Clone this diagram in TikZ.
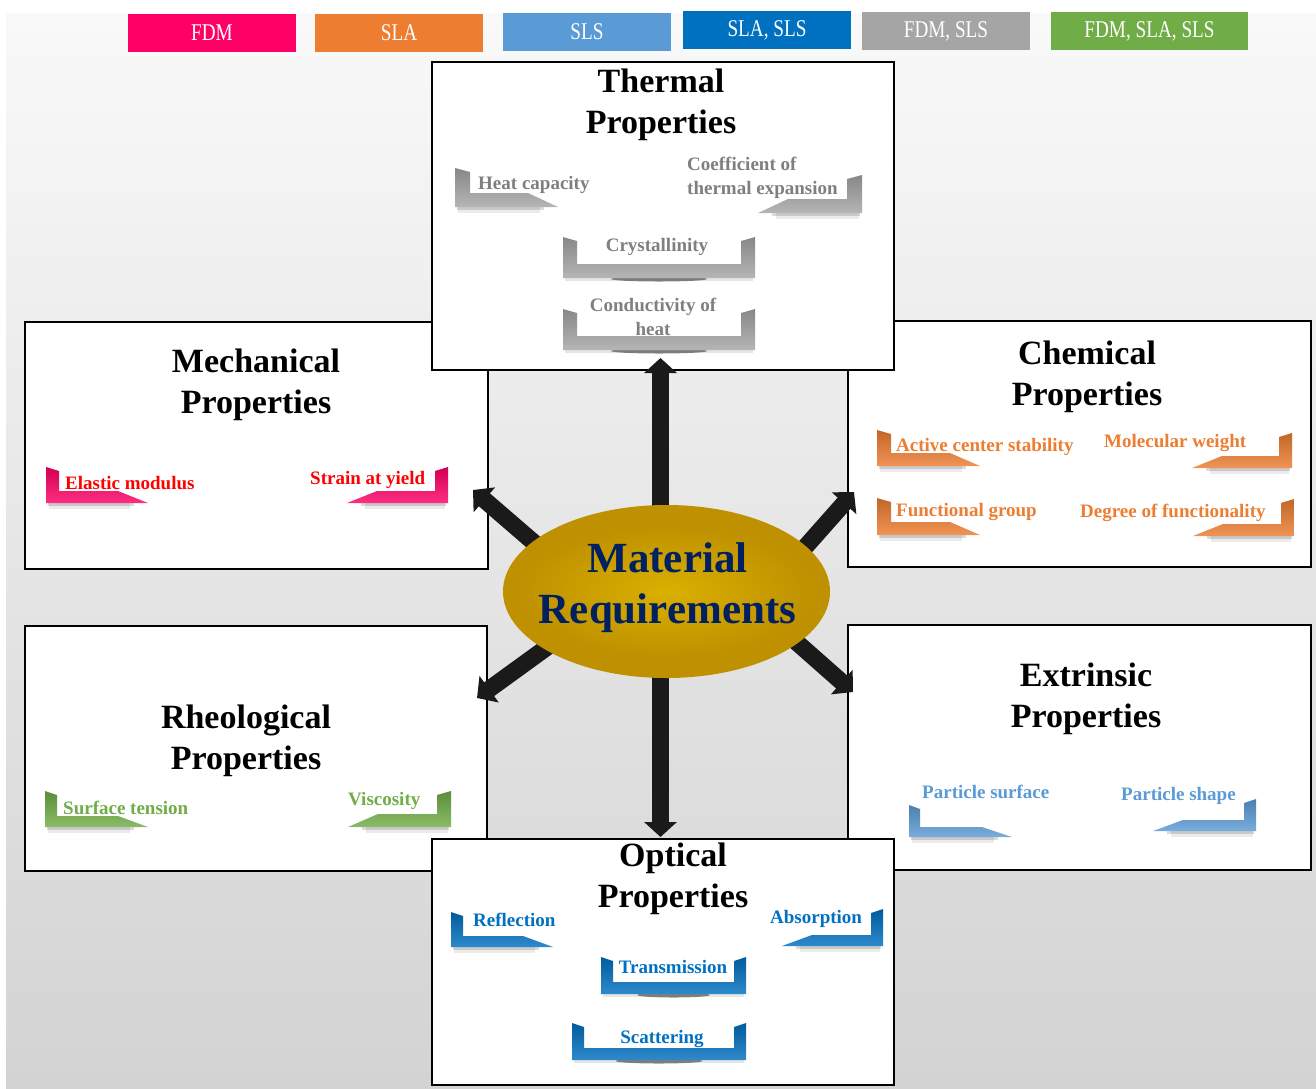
\documentclass[tikz,border=0pt]{standalone}
\usepackage{fontspec}
\usepackage{graphicx}
\setmainfont{Liberation Serif}
\usetikzlibrary{arrows.meta,shapes.geometric}
\definecolor{cFDM}{HTML}{FF0066}
\definecolor{cSLA}{HTML}{ED7D31}
\definecolor{cSLS}{HTML}{5B9BD5}
\definecolor{cSLASLS}{HTML}{0070C0}
\definecolor{cFDMSLS}{HTML}{A5A5A5}
\definecolor{cALL}{HTML}{70AD47}
\definecolor{tGray}{HTML}{7F7F7F}
\definecolor{tRed}{HTML}{FF0000}
\definecolor{gold}{HTML}{BF9000}
\definecolor{goldglow}{HTML}{D9B000}
\definecolor{navy}{HTML}{002060}
\definecolor{arrowblack}{HTML}{1A1A1A}
\definecolor{bgtop}{HTML}{F9F9F9}
\definecolor{bgbot}{HTML}{D3D3D3}

% left bracket: colour, outer x, top y, bottom y, end x, thickness
\newcommand\brkL[6]{%
  \fill[black,opacity=.14] ({#2+2},{#4-2}) rectangle ({#5-14},{#4+3});
  \fill[black,opacity=.08] ({#2+3},{#4}) rectangle ({#5-18},{#4+6});
  \shade[top color=#1!82!black,bottom color=#1!82!white]
    (#2,#3) -- ({#2+#6},{#3+4}) -- ({#2+#6},{#4-#6+1}) -- ({#5-30},{#4-#6+1})
    -- (#5,#4) -- (#2,#4) -- cycle;}
% right bracket
\newcommand\brkR[6]{%
  \fill[black,opacity=.14] ({#5+14},{#4-2}) rectangle ({#2-2},{#4+3});
  \fill[black,opacity=.08] ({#5+18},{#4}) rectangle ({#2-3},{#4+6});
  \shade[top color=#1!82!black,bottom color=#1!82!white]
    (#2,#3) -- ({#2-#6},{#3+4}) -- ({#2-#6},{#4-#6+1}) -- ({#5+30},{#4-#6+1})
    -- (#5,#4) -- (#2,#4) -- cycle;}
% U bracket: colour, left x, right x, top y, bottom y, thickness
\newcommand\brkU[6]{%
  \fill[black,opacity=.10] ({#2+2},{#5-2}) rectangle ({#3-2},{#5+3});
  \fill[black,opacity=.45] ({(#2+#3)/2},{#5+1}) ellipse [x radius={(#3-#2)/4}, y radius=2.5];
  \shade[top color=#1!82!black,bottom color=#1!82!white]
    (#2,#4) -- ({#2+#6},{#4+4}) -- ({#2+#6},{#5-#6}) -- ({#3-#6},{#5-#6})
    -- ({#3-#6},{#4+4}) -- (#3,#4) -- (#3,#5) -- (#2,#5) -- cycle;}

\tikzset{
  propbox/.style={draw=black, line width=1.8pt, fill=white, inner sep=0, anchor=north west},
  legendbox/.style={minimum width=168pt, minimum height=38pt, inner sep=0, text=white,
    font=\fontsize{24}{24}\selectfont},
  proptitle/.style={font=\fontsize{34}{41}\selectfont\bfseries, align=center, anchor=base, inner sep=0},
  item/.style={font=\fontsize{19}{24}\selectfont\bfseries, inner sep=0, yshift=-1.5pt},
  bigarrow/.style={line width=17pt, draw=arrowblack, -{Triangle[length=15pt,width=32pt]}},
}

\begin{document}
\begin{tikzpicture}[x=1pt,y=-1pt]
\useasboundingbox (0,0) rectangle (1316,1088);
\fill[white] (0,0) rectangle (1316,1088);
\shade[top color=bgtop, bottom color=bgbot] (6,13) rectangle (1316,1088);

% legend
\node[legendbox, fill=cFDM] (lgA) at (212,33) {\scalebox{0.8}[1]{FDM}};
\node[legendbox, fill=cSLA] (lgB) at (399,33) {\scalebox{0.8}[1]{SLA}};
\node[legendbox, fill=cSLS] (lgC) at (587,32) {\scalebox{0.8}[1]{SLS}};
\node[legendbox, fill=cSLASLS] (lgD) at (767,30) {\scalebox{0.8}[1]{SLA, SLS}};
\node[legendbox, fill=cFDMSLS] (lgE) at (946,31) {\scalebox{0.8}[1]{FDM, SLS}};
\node[legendbox, fill=cALL, minimum width=197pt] (lgF) at (1149.5,31) {\scalebox{0.8}[1]{FDM, SLA, SLS}};

% side boxes
\node[propbox, minimum width=463pt, minimum height=247pt] (mech) at (24,321) {};
\node[propbox, minimum width=463pt, minimum height=246pt] (chem) at (847,320) {};
\node[propbox, minimum width=462pt, minimum height=245pt] (rheo) at (24,625) {};
\node[propbox, minimum width=463pt, minimum height=245pt] (extr) at (847,624) {};
% top / bottom boxes
\node[propbox, minimum width=462pt, minimum height=308pt] (therm) at (431,61) {};
\node[propbox, minimum width=462pt, minimum height=246pt] (opt) at (431,838) {};

% titles (anchor = baseline of the last line)
\node[proptitle] (thermT) at (661,133) {Thermal\\Properties};
\node[proptitle] (mechT) at (256,413) {Mechanical\\Properties};
\node[proptitle] (chemT) at (1087,405) {Chemical\\Properties};
\node[proptitle] (rheoT) at (246,769) {Rheological\\Properties};
\node[proptitle] (extrT) at (1086,727) {Extrinsic\\Properties};
\node[proptitle] (optT) at (673,907) {Optical\\Properties};

% thermal items
\brkL{cFDMSLS}{455}{168}{207}{558}{15}
\brkR{cFDMSLS}{862}{175}{213}{758}{15}
\brkU{cFDMSLS}{563}{755}{237}{278}{14}
\brkU{cFDMSLS}{563}{755}{309}{350}{14}
\node[item, text=tGray, anchor=west] (i1) at (478,183) {Heat capacity};
\node[item, text=tGray, anchor=west, align=left] (i2) at (687,176) {Coefficient of\\thermal expansion};
\node[item, text=tGray] (i3) at (657,245) {Crystallinity};
\node[item, text=tGray, align=center] (i4) at (653,315) {Conductivity of\\heat};

% mechanical items
\brkL{cFDM}{46}{467}{503}{148}{13}
\brkR{cFDM}{448}{467}{503}{347}{13}
\node[item, text=tRed, anchor=west] (i5) at (65,482) {Elastic modulus};
\node[item, text=tRed, anchor=west] (i6) at (310,478) {Strain at yield};

% chemical items
\brkL{cSLA}{877}{430}{466}{980}{14}
\brkR{cSLA}{1292}{433}{468}{1192}{13}
\brkL{cSLA}{877}{498}{535}{980}{14}
\brkR{cSLA}{1294}{499}{536}{1193}{13}
\node[item, text=cSLA, anchor=west] (i7) at (896,445) {Active center stability};
\node[item, text=cSLA, anchor=west] (i8) at (1104,441) {Molecular weight};
\node[item, text=cSLA, anchor=west] (i9) at (896,510) {Functional group};
\node[item, text=cSLA, anchor=west] (i10) at (1080,511) {Degree of functionality};

% rheological items
\brkL{cALL}{45}{791}{827}{148}{12}
\brkR{cALL}{451}{791}{827}{348}{14}
\node[item, text=cALL, anchor=west] (i11) at (63,806) {Surface tension};
\node[item, text=cALL, anchor=west] (i12) at (348,799) {Viscosity};

% extrinsic items
\brkL{cSLS}{909}{805}{837}{1012}{11}
\brkR{cSLS}{1256}{799}{831}{1153}{12}
\node[item, text=cSLS, anchor=west] (i13) at (922,790) {Particle surface};
\node[item, text=cSLS, anchor=west] (i14) at (1121,794) {Particle shape};

% optical items
\brkL{cSLASLS}{451}{912}{947}{553}{12}
\brkR{cSLASLS}{883}{909}{946}{782}{12}
\brkU{cSLASLS}{601}{746}{957}{994}{12}
\brkU{cSLASLS}{572}{746}{1023}{1060}{12}
\node[item, text=cSLASLS, anchor=west] (i15) at (473,918) {Reflection};
\node[item, text=cSLASLS, anchor=west] (i16) at (770,917) {Absorption};
\node[item, text=cSLASLS] (i17) at (673,965) {Transmission};
\node[item, text=cSLASLS] (i18) at (662,1037) {Scattering};

% arrows
\coordinate (sUp) at (660.5,560);  \coordinate (tUp) at (660.5,358);
\coordinate (sDn) at (660.5,620);  \coordinate (tDn) at (660.5,837);
\coordinate (sUL) at (590,591);    \coordinate (tUL) at (473,490);
\coordinate (sUR) at (761,597);    \coordinate (tUR) at (854,492);
\coordinate (sLL) at (608,603);    \coordinate (tLL) at (477,698);
\coordinate (sLR) at (742,594);    \coordinate (tLR) at (853,692);
\draw[bigarrow] (sUp) -- (tUp);
\draw[bigarrow] (sDn) -- (tDn);
\draw[bigarrow] (sUL) -- (tUL);
\draw[bigarrow] (sUR) -- (tUR);
\draw[bigarrow] (sLL) -- (tLL);
\draw[bigarrow] (sLR) -- (tLR);

% centre
\node[ellipse, fill=gold, minimum width=327pt, minimum height=173pt, inner sep=0] (ell) at (666.5,591.5) {};
\shade[inner color=goldglow, outer color=gold] (ell.center) ellipse [x radius=150, y radius=66];
\node[font=\fontsize{43}{51}\selectfont\bfseries, text=navy, align=center, anchor=base, inner sep=0] (mr) at (667.5,623) {Material\\Requirements};
\end{tikzpicture}
\end{document}
